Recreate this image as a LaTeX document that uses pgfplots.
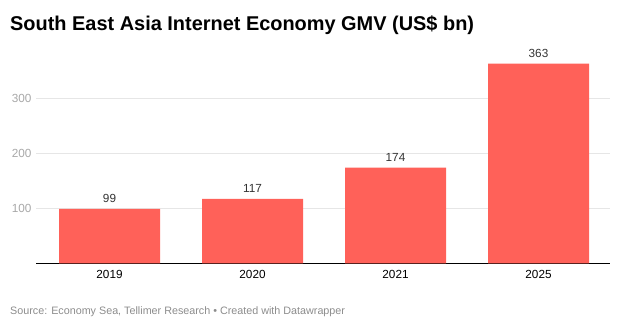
\documentclass[border=0pt]{standalone}
\usepackage{pgfplots}
\pgfplotsset{compat=1.18}
\usepackage{fontspec}
\setmainfont{Liberation Sans}
\definecolor{barc}{HTML}{FF6159}
\definecolor{gridc}{HTML}{E6E6E6}
\definecolor{tickc}{HTML}{A8A8A8}
\definecolor{valc}{HTML}{333333}
\definecolor{srcc}{HTML}{8C8C8C}
\begin{document}
\begin{tikzpicture}[x=1bp,y=1bp]
\path[use as bounding box] (0,0) rectangle (620,326);
\node[anchor=base west,font=\fontsize{20}{24}\selectfont\bfseries,inner sep=0] at (10,296) {South East Asia Internet Economy GMV (US\$ bn)};
\node[anchor=base west,font=\fontsize{10.8}{12}\selectfont,text=srcc,inner sep=0] at (10,12) {Source: Economy Sea, Tellimer Research • Created with Datawrapper};
\begin{axis}[
  at={(36bp,62.7bp)}, anchor=south west,
  scale only axis, width=574bp, height=209bp,
  xmin=-0.514, xmax=3.5, ymin=0, ymax=380,
  xtick={0,1,2,3}, xticklabels={2019,2020,2021,2025},
  ytick={100,200,300},
  ymajorgrids, grid style={gridc,line width=0.8pt},
  axis line style={draw=none},
  axis x line*=bottom,
  x axis line style={draw=black,line width=0.9pt,-},
  y axis line style={draw=none},
  major tick length=0pt,
  tick label style={font=\fontsize{11.8}{13}\selectfont},
  yticklabel style={text=tickc,xshift=-1bp},
  xticklabel style={text=black,yshift=-3bp},
  /pgf/number format/assume math mode=true,
  ybar, bar width=101bp,
  nodes near coords,
  nodes near coords style={font=\fontsize{11.8}{13}\selectfont,text=valc,yshift=3bp},
  clip=false,
]
\addplot[fill=barc,draw=none] coordinates {(0,99) (1,117) (2,174) (3,363)};
\end{axis}
\end{tikzpicture}
\end{document}
